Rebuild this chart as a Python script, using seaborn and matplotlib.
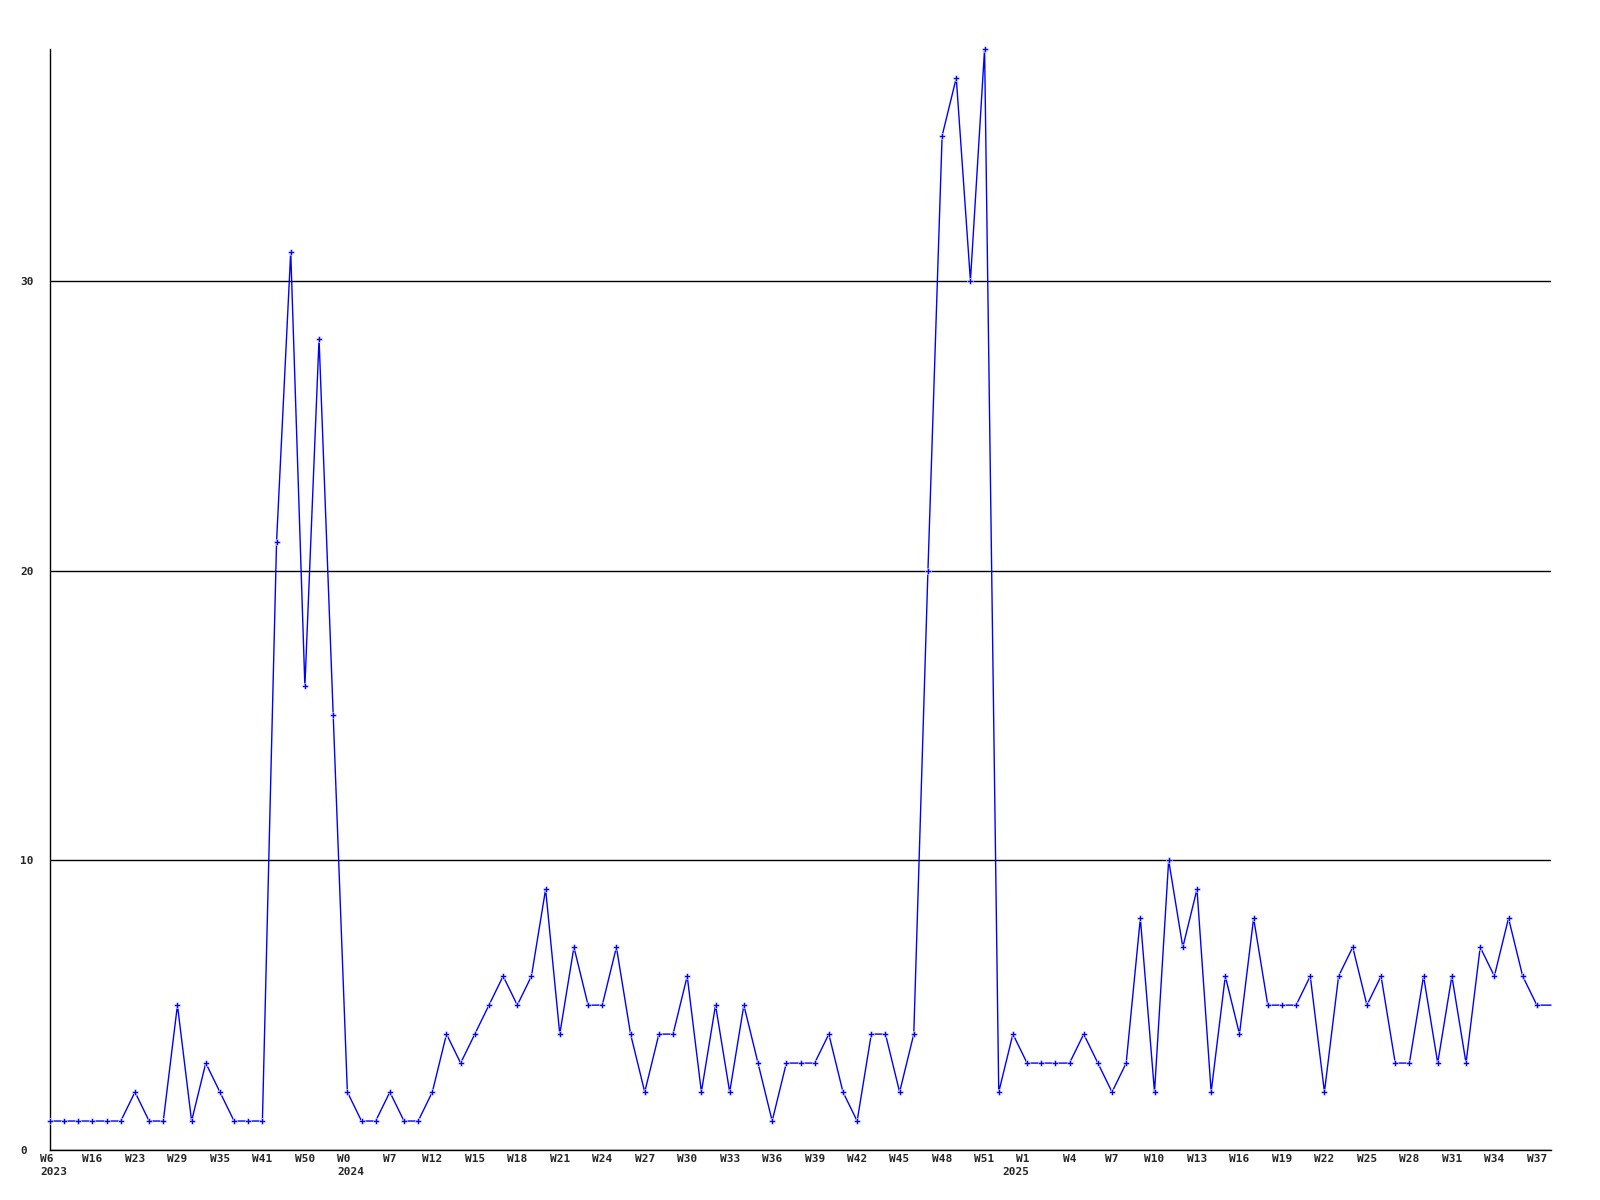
import numpy as np
import pandas as pd
import matplotlib
matplotlib.use('Agg')
import matplotlib.pyplot as plt
import matplotlib.transforms as mtransforms
import seaborn as sns

# weekly counts, one per point
values = [1, 1, 1, 1, 1, 1, 2, 1, 1, 5, 1, 3, 2, 1, 1, 1,
          21, 31, 16, 28, 15,
          2, 1, 1, 2, 1, 1, 2, 4, 3, 4, 5, 6, 5, 6,
          9, 4, 7, 5, 5, 7, 4, 2, 4, 4, 6, 2, 5, 2, 5, 3,
          1, 3, 3, 3, 4, 2, 1, 4, 4, 2, 4,
          20, 35, 37, 30, 38, 2,
          4, 3, 3, 3, 3, 4, 3, 2, 3,
          8, 2, 10, 7, 9, 2, 6, 4, 8, 5, 5, 5, 6, 2, 6, 7, 5, 6, 3, 3,
          6, 3, 6, 3, 7, 6, 8, 6, 5, 5]

# one label every third point
tick_labels = ['W6\n2023', 'W16', 'W23', 'W29', 'W35', 'W41', 'W50',
               'W0\n2024', 'W7', 'W12', 'W15', 'W18', 'W21', 'W24', 'W27',
               'W30', 'W33', 'W36', 'W39', 'W42', 'W45', 'W48', 'W51',
               'W1\n2025', 'W4', 'W7', 'W10', 'W13', 'W16', 'W19', 'W22',
               'W25', 'W28', 'W31', 'W34', 'W37']
y_ticks = [0, 10, 20, 30]

df = pd.DataFrame({'idx': np.arange(len(values)), 'count': values})

sns.set_style('white')
plt.rcParams['font.family'] = ['DejaVu Sans Mono', 'DejaVu Sans']

fig = plt.figure(figsize=(16, 12), dpi=100)
ax = fig.add_axes([50 / 1600, 1 - 1150 / 1200, 1501 / 1600, 1101 / 1200])

sns.lineplot(data=df, x='idx', y='count', ax=ax, color='#0000ff', linewidth=1,
             marker='P', markersize=5, markeredgewidth=0.4,
             markevery=list(range(len(values) - 1)), clip_on=False, zorder=3)

ax.set_xlim(0, len(values) - 1)
ax.set_ylim(0, max(values))

ax.set_yticks(y_ticks)
ax.set_yticklabels([str(v) for v in y_ticks], fontsize=8, fontweight='bold')
for lab in ax.get_yticklabels():
    lab.set_horizontalalignment('left')
ax.tick_params(axis='y', length=0, pad=21.6)

ax.set_xticks(np.arange(0, len(values) - 1, 3))
ax.set_xticklabels(tick_labels, fontsize=8, fontweight='bold', linespacing=1.35)
ax.tick_params(axis='x', length=0, pad=3)

# year labels: nudge the two-line blocks like the original
for lab in ax.get_xticklabels():
    txt = lab.get_text()
    if txt.startswith('W1\n'):
        lab.set_multialignment('right')
        shift = mtransforms.ScaledTranslation(-0.11, 0, fig.dpi_scale_trans)
        lab.set_transform(lab.get_transform() + shift)
    elif '\n' in txt:
        lab.set_multialignment('left')
        shift = mtransforms.ScaledTranslation(0.035, 0, fig.dpi_scale_trans)
        lab.set_transform(lab.get_transform() + shift)

ax.yaxis.grid(True, color='black', linewidth=1)
ax.xaxis.grid(False)
ax.set_axisbelow(True)

for side in ['top', 'right']:
    ax.spines[side].set_visible(False)
for side in ['left', 'bottom']:
    ax.spines[side].set_color('black')
    ax.spines[side].set_linewidth(1)

ax.set_xlabel('')
ax.set_ylabel('')

fig.savefig('out.png', dpi=100, facecolor='white')
